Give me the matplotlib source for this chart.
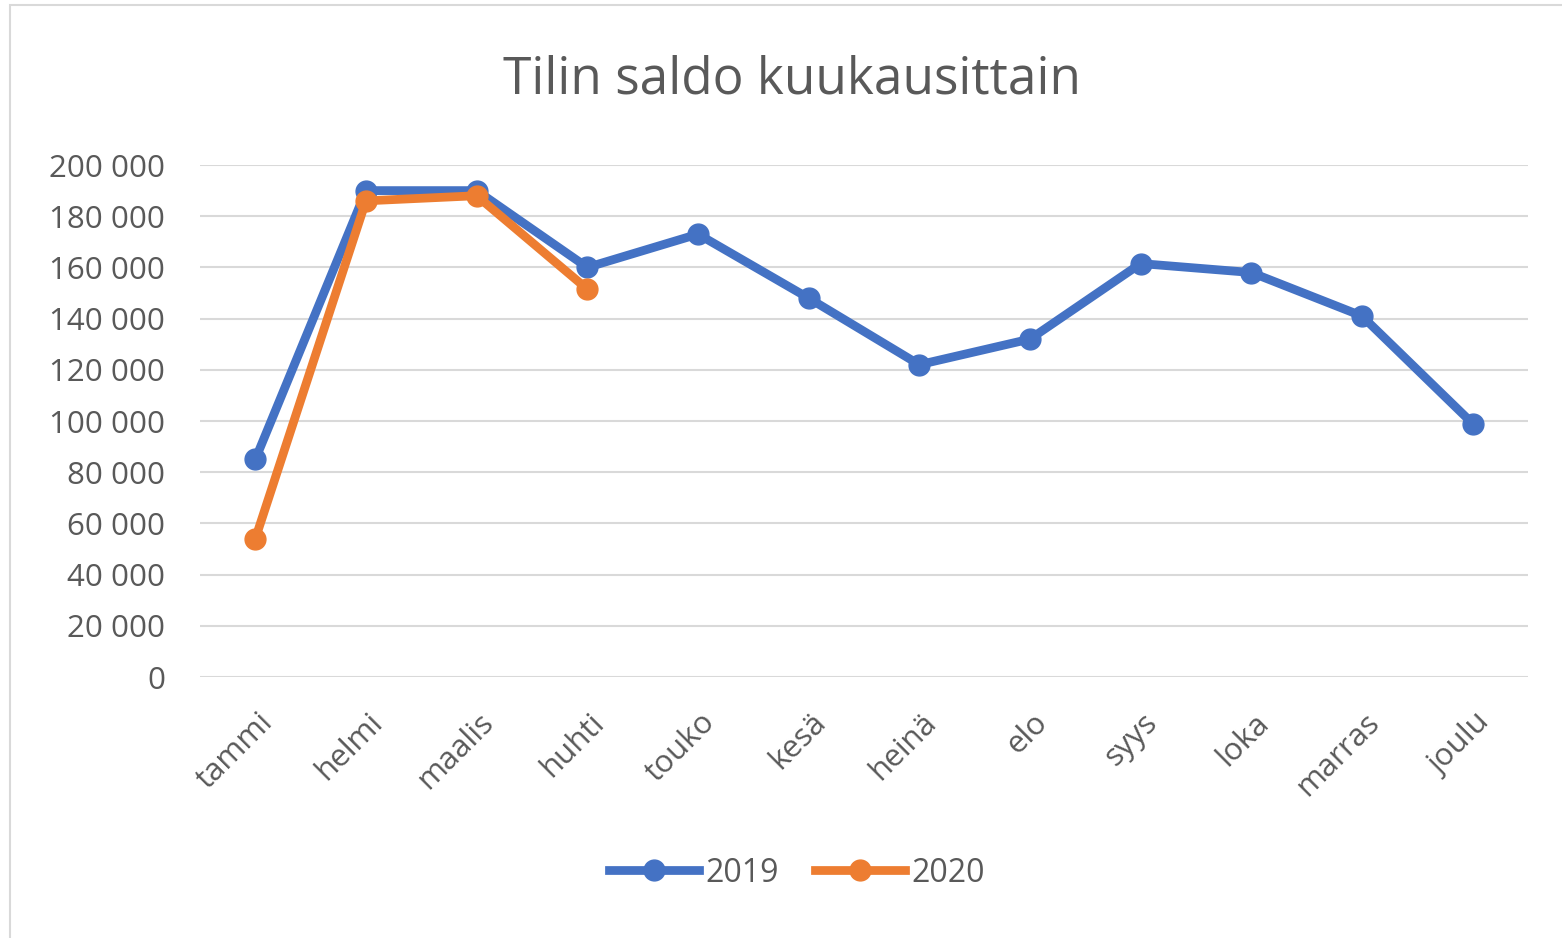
import matplotlib
matplotlib.use("Agg")
import matplotlib.pyplot as plt
import matplotlib.transforms as mtransforms
from matplotlib.patches import Rectangle
from matplotlib.ticker import FuncFormatter

# Data
kuukaudet = ["tammi", "helmi", "maalis", "huhti", "touko", "kesä",
             "heinä", "elo", "syys", "loka", "marras", "joulu"]
saldo_2019 = [85000, 190000, 190000, 160000, 173000, 148000,
              122000, 132000, 161500, 158000, 141000, 99000]
saldo_2020 = [54000, 186000, 188000, 151500]

sininen = "#4472C4"
oranssi = "#ED7D31"
harmaa = "#595959"

plt.rcParams["font.family"] = ["Open Sans", "DejaVu Sans"]

fig = plt.figure(figsize=(15.62, 9.38), dpi=100)
ax = fig.add_axes([200 / 1562, 1 - 677 / 938, 1328 / 1562, 512 / 938])

# Chart border like Excel
fig.patches.append(Rectangle((10 / 1562, -0.02), 1.1, 1 - 5 / 938 + 0.02,
                             transform=fig.transFigure, fill=False,
                             edgecolor="#D9D9D9", linewidth=1.5))

x = list(range(len(kuukaudet)))
ax.plot(x, saldo_2019, color=sininen, linewidth=6.3, marker="o",
        markersize=15, label="2019", solid_joinstyle="round", zorder=3)
ax.plot(x[:len(saldo_2020)], saldo_2020, color=oranssi, linewidth=6.3,
        marker="o", markersize=15, label="2020", solid_joinstyle="round", zorder=4)

ax.set_xlim(-0.5, 11.5)
ax.set_ylim(0, 200000)
ax.set_yticks(range(0, 200001, 20000))
ax.yaxis.set_major_formatter(FuncFormatter(lambda v, p: f"{int(v):,}".replace(",", " ")))
ax.grid(axis="y", color="#D9D9D9", linewidth=1.5)
ax.set_axisbelow(True)
for s in ax.spines.values():
    s.set_visible(False)
ax.tick_params(axis="y", length=0, pad=25, labelsize=22.5, labelcolor=harmaa)
ax.tick_params(axis="x", length=0, pad=22, labelsize=22.5, labelcolor=harmaa)

ax.set_xticks(x)
ax.set_xticklabels(kuukaudet, rotation=45, ha="right", va="top",
                   rotation_mode="anchor")
siirto = mtransforms.ScaledTranslation(2 / 100, 0, fig.dpi_scale_trans)
for lbl in ax.get_xticklabels():
    lbl.set_transform(lbl.get_transform() + siirto)

fig.text(792 / 1562, 1 - 80 / 938, "Tilin saldo kuukausittain",
         ha="center", va="center", fontsize=37, color=harmaa)

fig.legend(loc="center", bbox_to_anchor=(797 / 1562, 1 - 873 / 938),
           ncol=2, frameon=False, fontsize=23, labelcolor=harmaa,
           handlelength=2.8, handletextpad=0.2, columnspacing=1.15)

fig.savefig("out.png", dpi=100)
